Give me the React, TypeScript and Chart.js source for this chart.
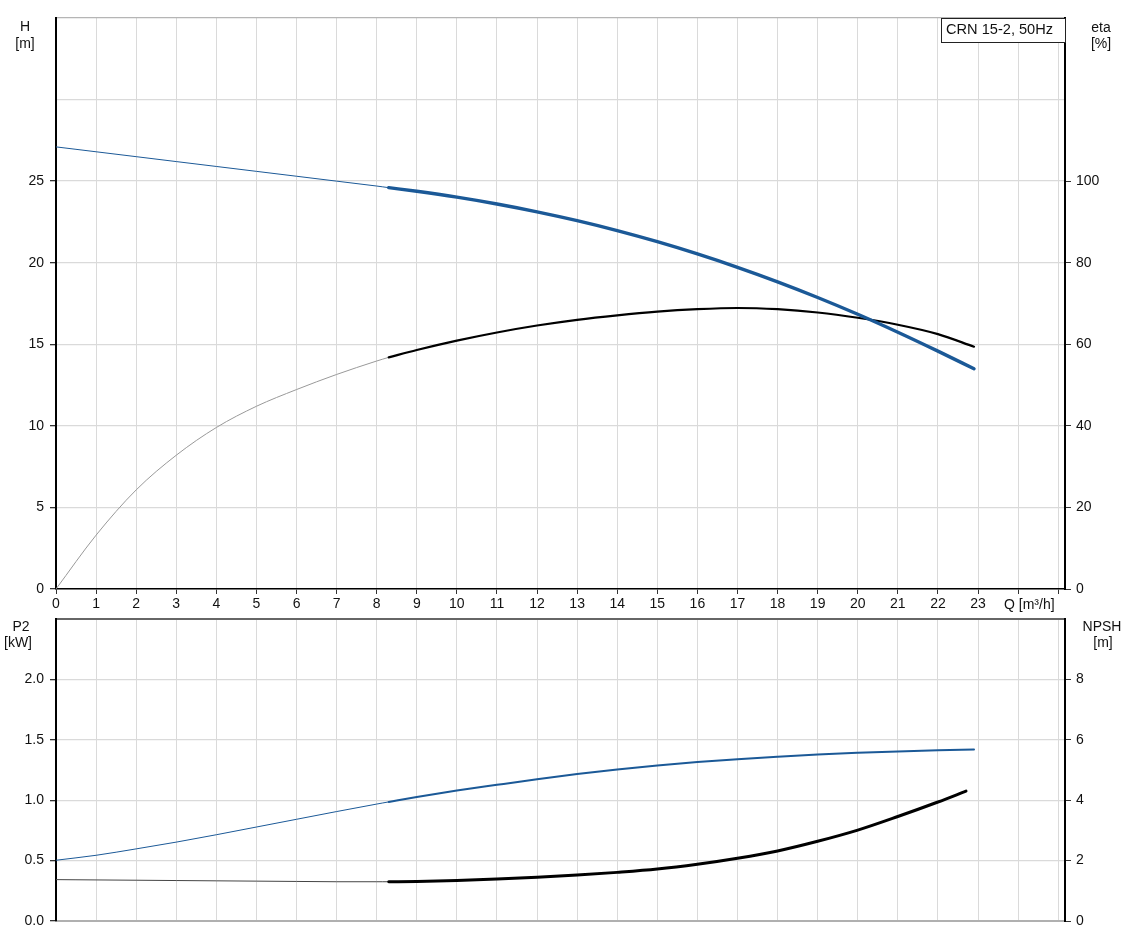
import React, { useEffect, useRef } from 'react';
import { Chart, registerables } from 'chart.js';

Chart.register(...registerables);

// ---- Data ----
const qLow = [0, 1, 2, 3, 4, 5, 6, 7, 8, 8.3];
const qHigh = [8.3, 9, 10, 11, 12, 13, 14, 15, 16, 17, 18, 19, 20, 21, 22, 22.9];
const qNpshHigh = [8.3, 9, 10, 11, 12, 13, 14, 15, 16, 17, 18, 19, 20, 21, 22, 22.7];

const headLow = [27.1, 26.8, 26.5, 26.2, 25.9, 25.6, 25.3, 25.0, 24.7, 24.6];
const headHigh = [24.6, 24.38, 24.02, 23.6, 23.12, 22.58, 21.97, 21.29, 20.54, 19.72, 18.83, 17.87, 16.84, 15.74, 14.58, 13.5];

const etaLow = [0, 13.2, 24.3, 32.8, 39.6, 44.8, 48.9, 52.6, 55.9, 56.8];
const etaHigh = [56.8, 58.6, 60.9, 62.9, 64.6, 66.0, 67.1, 68.0, 68.6, 68.9, 68.6, 67.8, 66.5, 64.8, 62.5, 59.4];

const p2Low = [0.503, 0.544, 0.597, 0.653, 0.714, 0.778, 0.842, 0.906, 0.968, 0.986];
const p2High = [0.986, 1.027, 1.080, 1.127, 1.173, 1.216, 1.255, 1.288, 1.316, 1.340, 1.360, 1.378, 1.392, 1.404, 1.413, 1.419];

const npshLow = [1.37, 1.36, 1.35, 1.34, 1.33, 1.32, 1.31, 1.30, 1.30, 1.30];
const npshHigh = [1.30, 1.31, 1.34, 1.39, 1.45, 1.52, 1.61, 1.72, 1.88, 2.08, 2.32, 2.64, 3.01, 3.46, 3.94, 4.30];

const qTicks = [0, 1, 2, 3, 4, 5, 6, 7, 8, 9, 10, 11, 12, 13, 14, 15, 16, 17, 18, 19, 20, 21, 22, 23, 24, 25];
const qTickLabels = ['0', '1', '2', '3', '4', '5', '6', '7', '8', '9', '10', '11', '12', '13', '14', '15', '16', '17', '18', '19', '20', '21', '22', '23', '', ''];
const qAxisTitle = 'Q [m³/h]';

const headTicks = [0, 5, 10, 15, 20, 25, 30, 35];
const headTickLabels = ['0', '5', '10', '15', '20', '25', '', ''];
const etaTicks = [0, 20, 40, 60, 80, 100, 120, 140];
const etaTickLabels = ['0', '20', '40', '60', '80', '100', '', ''];
const p2Ticks = [0, 0.5, 1.0, 1.5, 2.0, 2.5];
const p2TickLabels = ['0.0', '0.5', '1.0', '1.5', '2.0', ''];
const npshTicks = [0, 2, 4, 6, 8, 10];
const npshTickLabels = ['0', '2', '4', '6', '8', ''];

const legendText = 'CRN 15-2, 50Hz';

// ---- Styles ----
const FONT = '"Liberation Sans", Arial, sans-serif';
const BLUE = '#1b5997';
const GRID = '#dadada';
const TEXT = '#111';

const pts = (xs: number[], ys: number[]) => xs.map((x, i) => ({ x, y: ys[i] }));

const line = (data: any[], color: string, width: number, axis: string) => ({
  data,
  borderColor: color,
  borderWidth: width,
  pointRadius: 0,
  fill: false,
  cubicInterpolationMode: 'monotone' as const,
  borderCapStyle: 'round' as const,
  yAxisID: axis,
});

const setTicks = (vals: number[]) => (scale: any) => {
  scale.ticks = vals.map((v) => ({ value: v }));
};

const fitY = (w: number) => (s: any) => {
  s.width = w;
  s.paddingTop = 0;
  s.paddingBottom = 0;
};
const fitX = (h: number) => (s: any) => {
  s.height = h;
  s.paddingLeft = 0;
  s.paddingRight = 0;
};

type TextItem = { t: string; x: number; y: number; align: CanvasTextAlign };

const textPlugin = (items: TextItem[], box?: { x: number; y: number; w: number; h: number; t: string }) => ({
  id: 'texts',
  afterDraw(chart: any) {
    const c = chart.ctx as CanvasRenderingContext2D;
    c.save();
    c.font = `14px ${FONT}`;
    c.fillStyle = TEXT;
    c.textBaseline = 'alphabetic';
    items.forEach((it) => {
      c.textAlign = it.align;
      c.fillText(it.t, it.x, it.y);
    });
    if (box) {
      c.fillStyle = '#fff';
      c.fillRect(box.x, box.y, box.w, box.h);
      c.strokeStyle = '#222';
      c.lineWidth = 1;
      c.strokeRect(box.x + 0.5, box.y + 0.5, box.w, box.h);
      c.fillStyle = TEXT;
      c.textAlign = 'left';
      c.font = `14.6px ${FONT}`;
      c.fillText(box.t, box.x + 5, box.y + 16);
    }
    c.restore();
  },
});

export default function App() {
  const topRef = useRef<HTMLCanvasElement | null>(null);
  const botRef = useRef<HTMLCanvasElement | null>(null);

  useEffect(() => {
    Chart.defaults.font.family = FONT;
    Chart.defaults.font.size = 14;
    Chart.defaults.color = TEXT;

    const top = new Chart(topRef.current as HTMLCanvasElement, {
      type: 'line',
      data: {
        datasets: [
          line(pts(qHigh, headHigh), BLUE, 3.4, 'y'),
          line(pts(qLow, headLow), BLUE, 1, 'y'),
          line(pts(qHigh, etaHigh), '#000', 2.2, 'y1'),
          line(pts(qLow, etaLow), '#999', 1, 'y1'),
        ] as any,
      },
      options: {
        animation: false,
        responsive: false,
        layout: { padding: { top: 18, left: 0, right: 0, bottom: 0 } },
        plugins: { legend: { display: false }, tooltip: { enabled: false } },
        scales: {
          x: {
            type: 'linear',
            min: 0,
            max: 25.17,
            afterBuildTicks: setTicks(qTicks),
            afterFit: fitX(27),
            ticks: { callback: (_v: any, i: number) => qTickLabels[i], padding: 2, maxRotation: 0, autoSkip: false, color: TEXT },
            grid: { color: GRID, lineWidth: 1, tickLength: 5, tickColor: '#333' },
            border: { color: '#000', width: 1.5 },
          },
          y: {
            type: 'linear',
            position: 'left',
            min: 0,
            max: 35,
            afterBuildTicks: setTicks(headTicks),
            afterFit: fitY(56),
            ticks: { callback: (_v: any, i: number) => headTickLabels[i], padding: 6, color: TEXT },
            grid: {
              color: (ctx: any) => (ctx.index === headTicks.length - 1 ? '#b5b5b5' : GRID),
              lineWidth: 1.3,
              tickLength: 6,
              tickColor: (ctx: any) => (headTickLabels[ctx.index] ? '#333' : 'rgba(0,0,0,0)'),
            },
            border: { color: '#000', width: 2 },
          },
          y1: {
            type: 'linear',
            position: 'right',
            min: 0,
            max: 140,
            afterBuildTicks: setTicks(etaTicks),
            afterFit: fitY(63),
            ticks: { callback: (_v: any, i: number) => etaTickLabels[i], padding: 5, color: TEXT },
            grid: {
              drawOnChartArea: false,
              tickLength: 6,
              tickColor: (ctx: any) => (etaTickLabels[ctx.index] ? '#333' : 'rgba(0,0,0,0)'),
            },
            border: { color: '#000', width: 2 },
          },
        },
      },
      plugins: [
        textPlugin(
          [
            { t: 'H', x: 25, y: 31, align: 'center' },
            { t: '[m]', x: 25, y: 48, align: 'center' },
            { t: 'eta', x: 1101, y: 31.5, align: 'center' },
            { t: '[%]', x: 1101, y: 48, align: 'center' },
            { t: qAxisTitle, x: 1004, y: 609, align: 'left' },
          ],
          { x: 941, y: 18, w: 124, h: 24, t: legendText }
        ) as any,
      ],
    });

    const bot = new Chart(botRef.current as HTMLCanvasElement, {
      type: 'line',
      data: {
        datasets: [
          line(pts(qHigh, p2High), BLUE, 2, 'y'),
          line(pts(qLow, p2Low), BLUE, 1, 'y'),
          line(pts(qNpshHigh, npshHigh), '#000', 3, 'y1'),
          line(pts(qLow, npshLow), '#444', 1, 'y1'),
        ] as any,
      },
      options: {
        animation: false,
        responsive: false,
        layout: { padding: { top: 3, left: 0, right: 0, bottom: 0 } },
        plugins: { legend: { display: false }, tooltip: { enabled: false } },
        scales: {
          x: {
            type: 'linear',
            min: 0,
            max: 25.17,
            afterBuildTicks: setTicks(qTicks),
            afterFit: fitX(20),
            ticks: { display: false },
            grid: { color: GRID, lineWidth: 1, drawTicks: false },
            border: { color: '#b0b0b0', width: 2 },
          },
          y: {
            type: 'linear',
            position: 'left',
            min: 0,
            max: 2.5,
            afterBuildTicks: setTicks(p2Ticks),
            afterFit: fitY(56),
            ticks: { callback: (_v: any, i: number) => p2TickLabels[i], padding: 6, color: TEXT },
            grid: {
              color: (ctx: any) => (ctx.index === p2Ticks.length - 1 ? '#666' : GRID),
              lineWidth: (ctx: any) => (ctx.index === p2Ticks.length - 1 ? 2 : 1.3),
              tickLength: 6,
              tickColor: (ctx: any) => (p2TickLabels[ctx.index] ? '#333' : 'rgba(0,0,0,0)'),
            },
            border: { color: '#000', width: 2 },
          },
          y1: {
            type: 'linear',
            position: 'right',
            min: 0,
            max: 10,
            afterBuildTicks: setTicks(npshTicks),
            afterFit: fitY(63),
            ticks: { callback: (_v: any, i: number) => npshTickLabels[i], padding: 5, color: TEXT },
            grid: {
              drawOnChartArea: false,
              tickLength: 6,
              tickColor: (ctx: any) => (npshTickLabels[ctx.index] ? '#333' : 'rgba(0,0,0,0)'),
            },
            border: { color: '#000', width: 2 },
          },
        },
      },
      plugins: [
        textPlugin([
          { t: 'P2', x: 21, y: 14.5, align: 'center' },
          { t: '[kW]', x: 18, y: 30.5, align: 'center' },
          { t: 'NPSH', x: 1102, y: 14.5, align: 'center' },
          { t: '[m]', x: 1103, y: 31, align: 'center' },
        ]) as any,
      ],
    });

    return () => {
      top.destroy();
      bot.destroy();
    };
  }, []);

  return (
    <div style={{ position: 'absolute', left: 0, top: 0, width: 1128, height: 941, background: '#fff' }}>
      <canvas ref={topRef} width={1128} height={616} style={{ position: 'absolute', left: 0, top: 0, width: 1128, height: 616 }} />
      <canvas ref={botRef} width={1128} height={325} style={{ position: 'absolute', left: 0, top: 616, width: 1128, height: 325 }} />
    </div>
  );
}
